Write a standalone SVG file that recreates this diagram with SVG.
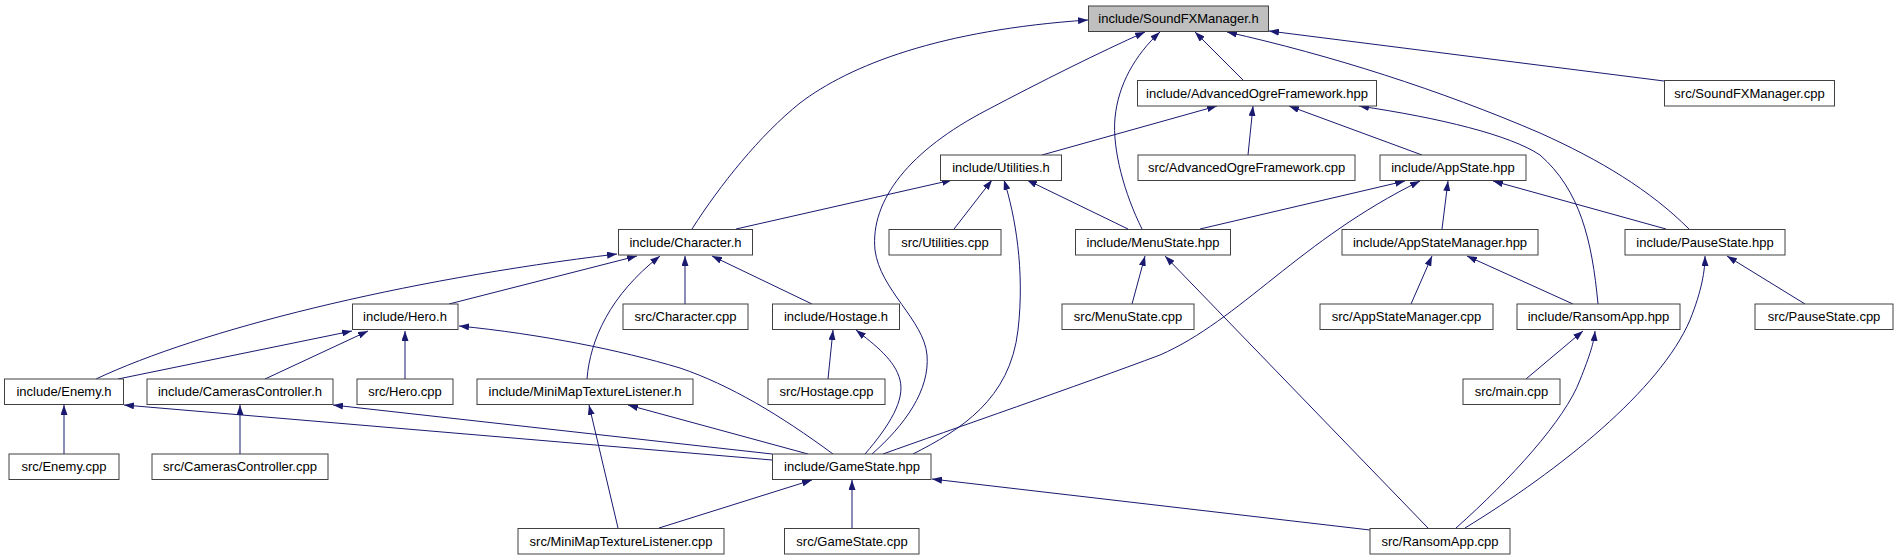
<svg xmlns="http://www.w3.org/2000/svg" width="1899" height="560" viewBox="0 0 1899 560">
<style>
.n rect{fill:#fff;stroke:#404040;stroke-width:1}
.n.hl rect{fill:#bfbfbf}
.n text{font-family:"Liberation Sans",Arial,sans-serif;font-size:13px;text-anchor:middle;fill:#000}
.e{fill:none;stroke:#191970;stroke-width:1;marker-end:url(#ah)}
</style>
<defs>
<marker id="ah" viewBox="0 0 10 7" refX="10" refY="3.5" markerWidth="10" markerHeight="7" markerUnits="userSpaceOnUse" orient="auto">
<path d="M0,0 L10,3.5 L0,7 z" fill="#191970"/>
</marker>
</defs>
<rect x="0" y="0" width="1899" height="560" fill="#fff"/>
<g id="edges">
<path class="e" d="M692,229 C720,185 760,135 800,103 C850,65 940,30 1088,20"/>
<path class="e" d="M872,454 C905,425 930,390 927,355 C924,320 880,290 875,250 C870,200 910,150 987,110 C1040,82 1100,52 1145,32"/>
<path class="e" d="M1142,229 C1125,195 1112,150 1115,118 C1118,85 1135,55 1160,32"/>
<path class="e" d="M1244,81 L1195,32"/>
<path class="e" d="M1689,229 C1650,190 1600,160 1540,133 C1440,90 1330,55 1227,32"/>
<path class="e" d="M1664,81 L1269,31"/>
<path class="e" d="M1042,155 L1217,106"/>
<path class="e" d="M1248,155 L1253,106"/>
<path class="e" d="M1422,155 L1289,106"/>
<path class="e" d="M1598,304 C1592,240 1580,190 1540,155 C1510,135 1440,118 1359,106"/>
<path class="e" d="M736,229 L952,180"/>
<path class="e" d="M954,229 L992,180"/>
<path class="e" d="M913,454 C960,430 1010,400 1018,330 C1025,270 1015,215 1004,180"/>
<path class="e" d="M1128,229 L1027,180"/>
<path class="e" d="M1200,229 L1405,181"/>
<path class="e" d="M883,454 C950,430 1080,385 1160,355 C1240,320 1300,240 1420,181"/>
<path class="e" d="M1442,229 L1448,181"/>
<path class="e" d="M1666,229 L1493,181"/>
<path class="e" d="M1411,304 L1432,256"/>
<path class="e" d="M1573,304 L1467,256"/>
<path class="e" d="M1805,304 L1727,256"/>
<path class="e" d="M1465,528 C1560,470 1660,390 1690,320 C1702,290 1705,270 1705,256"/>
<path class="e" d="M1526,379 L1583,331"/>
<path class="e" d="M1456,528 C1510,480 1565,420 1580,380 C1590,355 1594,342 1595,331"/>
<path class="e" d="M1132,304 L1145,256"/>
<path class="e" d="M1428,528 L1165,256"/>
<path class="e" d="M96,379 C200,330 400,280 617,254"/>
<path class="e" d="M449,304 L637,256"/>
<path class="e" d="M685,304 L685,256"/>
<path class="e" d="M812,304 L712,256"/>
<path class="e" d="M587,379 C590,340 610,295 660,256"/>
<path class="e" d="M118,379 L352,331"/>
<path class="e" d="M265,379 L368,331"/>
<path class="e" d="M405,379 L405,331"/>
<path class="e" d="M833,454 C780,415 730,385 680,368 C620,350 540,334 459,326"/>
<path class="e" d="M64,454 L64,405"/>
<path class="e" d="M772,460 L124,405"/>
<path class="e" d="M240,454 L240,405"/>
<path class="e" d="M772,454 L333,405"/>
<path class="e" d="M808,454 L628,405"/>
<path class="e" d="M618,528 L589,405"/>
<path class="e" d="M828,379 L833,330"/>
<path class="e" d="M865,454 C890,425 905,400 900,380 C895,360 875,345 856,330"/>
<path class="e" d="M659,528 L812,480"/>
<path class="e" d="M852,528 L852,480"/>
<path class="e" d="M1370,530 L932,479"/>
</g>
<g id="n-soundfx-h" class="n hl"><rect x="1088.5" y="6" width="180" height="25.5"/><text x="1178.5" y="23">include/SoundFXManager.h</text></g>
<g id="n-aof-hpp" class="n"><rect x="1137.5" y="80.5" width="239" height="25.5"/><text x="1257" y="97.5">include/AdvancedOgreFramework.hpp</text></g>
<g id="n-soundfx-cpp" class="n"><rect x="1664.5" y="80.5" width="170" height="25.5"/><text x="1749.5" y="97.5">src/SoundFXManager.cpp</text></g>
<g id="n-utilities-h" class="n"><rect x="940.5" y="155" width="121" height="25.5"/><text x="1001" y="172">include/Utilities.h</text></g>
<g id="n-aof-cpp" class="n"><rect x="1138" y="155" width="217" height="25.5"/><text x="1246.5" y="172">src/AdvancedOgreFramework.cpp</text></g>
<g id="n-appstate-hpp" class="n"><rect x="1380" y="155" width="146" height="25.5"/><text x="1453" y="172">include/AppState.hpp</text></g>
<g id="n-character-h" class="n"><rect x="618.5" y="229.5" width="134" height="25.5"/><text x="685.5" y="246.5">include/Character.h</text></g>
<g id="n-utilities-cpp" class="n"><rect x="889" y="229.5" width="112" height="25.5"/><text x="945" y="246.5">src/Utilities.cpp</text></g>
<g id="n-menustate-hpp" class="n"><rect x="1075.5" y="229.5" width="155" height="25.5"/><text x="1153" y="246.5">include/MenuState.hpp</text></g>
<g id="n-appstatemanager-hpp" class="n"><rect x="1342" y="229.5" width="196" height="25.5"/><text x="1440" y="246.5">include/AppStateManager.hpp</text></g>
<g id="n-pausestate-hpp" class="n"><rect x="1625" y="229.5" width="160" height="25.5"/><text x="1705" y="246.5">include/PauseState.hpp</text></g>
<g id="n-hero-h" class="n"><rect x="352.5" y="304" width="105.5" height="25.5"/><text x="405" y="321">include/Hero.h</text></g>
<g id="n-character-cpp" class="n"><rect x="623" y="304" width="125" height="25.5"/><text x="685.5" y="321">src/Character.cpp</text></g>
<g id="n-hostage-h" class="n"><rect x="772.5" y="304" width="127" height="25.5"/><text x="836" y="321">include/Hostage.h</text></g>
<g id="n-menustate-cpp" class="n"><rect x="1062" y="304" width="132" height="25.5"/><text x="1128" y="321">src/MenuState.cpp</text></g>
<g id="n-appstatemanager-cpp" class="n"><rect x="1320" y="304" width="173" height="25.5"/><text x="1406.5" y="321">src/AppStateManager.cpp</text></g>
<g id="n-ransomapp-hpp" class="n"><rect x="1517" y="304" width="163" height="25.5"/><text x="1598.5" y="321">include/RansomApp.hpp</text></g>
<g id="n-pausestate-cpp" class="n"><rect x="1755" y="304" width="138" height="25.5"/><text x="1824" y="321">src/PauseState.cpp</text></g>
<g id="n-enemy-h" class="n"><rect x="4.5" y="379" width="119" height="25.5"/><text x="64" y="396">include/Enemy.h</text></g>
<g id="n-camerascontroller-h" class="n"><rect x="147" y="379" width="186" height="25.5"/><text x="240" y="396">include/CamerasController.h</text></g>
<g id="n-hero-cpp" class="n"><rect x="357" y="379" width="96" height="25.5"/><text x="405" y="396">src/Hero.cpp</text></g>
<g id="n-minimap-h" class="n"><rect x="477" y="379" width="216" height="25.5"/><text x="585" y="396">include/MiniMapTextureListener.h</text></g>
<g id="n-hostage-cpp" class="n"><rect x="768" y="379" width="117" height="25.5"/><text x="826.5" y="396">src/Hostage.cpp</text></g>
<g id="n-main-cpp" class="n"><rect x="1463" y="379" width="97" height="25.5"/><text x="1511.5" y="396">src/main.cpp</text></g>
<g id="n-enemy-cpp" class="n"><rect x="9" y="454" width="110" height="25.5"/><text x="64" y="471">src/Enemy.cpp</text></g>
<g id="n-camerascontroller-cpp" class="n"><rect x="152" y="454" width="176" height="25.5"/><text x="240" y="471">src/CamerasController.cpp</text></g>
<g id="n-gamestate-hpp" class="n"><rect x="772.5" y="454" width="158.5" height="25.5"/><text x="852" y="471">include/GameState.hpp</text></g>
<g id="n-minimap-cpp" class="n"><rect x="518" y="528.5" width="206" height="25.5"/><text x="621" y="545.5">src/MiniMapTextureListener.cpp</text></g>
<g id="n-gamestate-cpp" class="n"><rect x="784.5" y="528.5" width="134.5" height="25.5"/><text x="852" y="545.5">src/GameState.cpp</text></g>
<g id="n-ransomapp-cpp" class="n"><rect x="1370" y="528.5" width="140" height="25.5"/><text x="1440" y="545.5">src/RansomApp.cpp</text></g>
</svg>
